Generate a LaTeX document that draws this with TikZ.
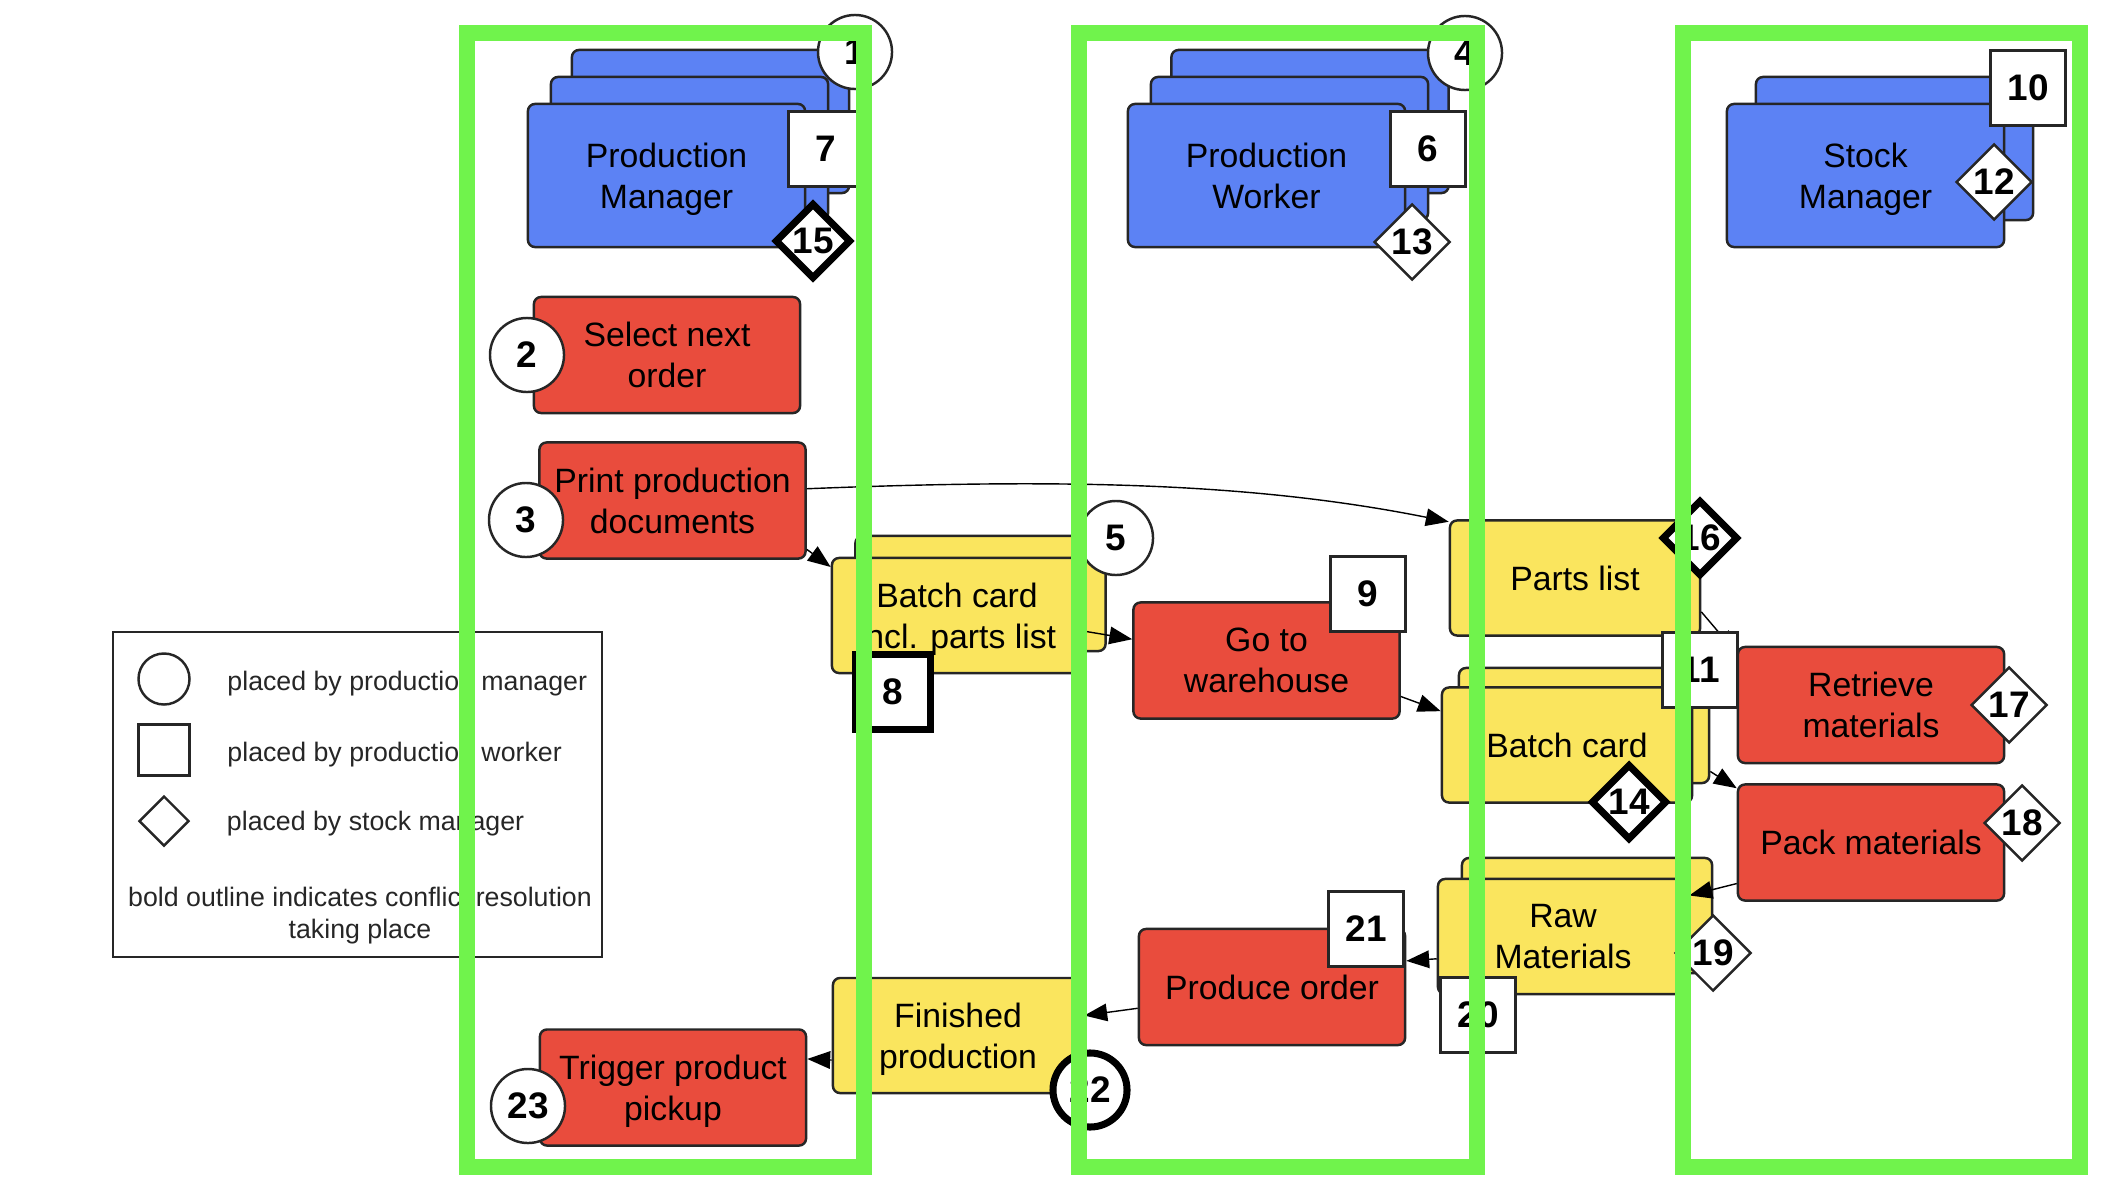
\documentclass[tikz,border=0pt]{standalone}
\usepackage{fontspec}
\setmainfont{Liberation Sans}
\usepackage{tikz}
\usetikzlibrary{positioning,shapes.geometric,arrows.meta}
\definecolor{actorblue}{RGB}{92,130,244}
\definecolor{taskred}{RGB}{233,76,61}
\definecolor{docyellow}{RGB}{250,229,94}
\definecolor{lanegreen}{RGB}{112,243,76}

\begin{document}
\begin{tikzpicture}[x=0.01cm,y=-0.01cm,>={Triangle[length=6.5pt,width=5pt]},
	actor/.style={draw=black!85, fill=actorblue, rounded corners=2pt, line width=0.7pt, minimum width=2.77cm, minimum height=1.43cm, align=center, text depth=0pt, font=\fontsize{9.6}{11.7}\selectfont},
	task/.style={actor, fill=taskred, minimum width=2.66cm, minimum height=1.16cm, text depth=-1pt},
	doc/.style={actor, fill=docyellow, minimum width=2.5cm, minimum height=1.15cm, text depth=-1pt},
	pmmark/.style={circle, draw=black!85, fill=white, line width=0.7pt, minimum size=0.74cm, inner sep=0pt, font=\fontsize{10.5}{12}\selectfont\bfseries},
	pwmark/.style={pmmark, rectangle, minimum size=0.75cm},
	smmark/.style={pmmark, diamond, minimum size=0.76cm},
	conflict/.style={draw=black, line width=2pt},
	keytext/.style={inner sep=0pt, text=black!85, font=\fontsize{7.6}{9.1}\selectfont},
	lane/.style={draw=lanegreen, line width=4.5pt},]
						\useasboundingbox (0,0) rectangle (2128,1176);

						\node[actor](pmback2) at (710.5,121.5){};
						\node[actor](pmback1) at (689.5,148.5){};
						\node[actor](pmanager) at (666.5,175.5){Production\\Manager};
						\node[actor](pwback2) at (1310,121.5){};
						\node[actor](pwback1) at (1289.5,148.5){};
						\node[actor](pworker) at (1266.5,175.5){Production\\Worker};
						\node[actor](smback1) at (1894.5,148.5){};
						\node[actor](smanager) at (1865.5,175.5){Stock\\Manager};

						\node[task](select) at (667,355){Select next\\order};
						\node[task](print) at (672.5,500.5){Print production\\documents};
						\node[task](warehouse) at (1266.5,660.5){Go to\\warehouse};
						\node[task](retrieve) at (1871,705){Retrieve\\materials};
						\node[task](pack) at (1871,842.5){Pack materials};
						\node[task](produce) at (1272,987){Produce order};
						\node[task](pickup) at (673,1087.5){Trigger product\\pickup};

						\node[doc](batchpartsback) at (980.5,593.5){};
						\node[doc](batchparts) at (957,615.5){Batch card\\incl. parts list};
						\node[doc](partslist) at (1575,578){Parts list};
						\node[doc](batchback) at (1584,725.5){};
						\node[doc](batch) at (1567,745){Batch card};
						\node[doc](rawback) at (1587,915.5){};
						\node[doc](raw) at (1563,936.5){Raw\\Materials};
						\node[doc](finished) at (958,1035.5){Finished\\production};

						\draw[->,black](print.-20) -- (batchparts.159);
						\draw[->,black](print.5) .. controls +(250,-10) and +(-200,-40) .. (partslist.156);
						\draw[->,black](batchparts.-7) -- (warehouse.171);
						\draw[->,black](warehouse.-15) -- (batch.165);
						\draw[->,black](partslist.-15) -- (retrieve.159);
						\draw[->,black](batchback.-20) -- (pack.158);
						\draw[->,black](pack.197) -- (raw.18);
						\draw[->,black](raw.190) -- (produce.11);
						\draw[->,black](produce.189) -- (finished.9);
						\draw[->,black](finished.191) -- (pickup.12);

						\node[pmmark](mark1) at (855,52){1};
						\node[pwmark](mark7) at (826,149){7};
						\node[smmark,conflict](mark15) at (813,241){15};
						\node[pmmark](mark4) at (1465,53){4};
						\node[pwmark](mark6) at (1428,149){6};
						\node[smmark](mark13) at (1412,242){13};
						\node[pwmark](mark10) at (2028,88){10};
						\node[smmark](mark12) at (1994,182){12};
						\node[pmmark](mark2) at (527,355){2};
						\node[pmmark](mark3) at (526,520){3};
						\node[pmmark](mark5) at (1116,538){5};
						\node[pwmark,conflict](mark8) at (893,692){8};
						\node[pwmark](mark9) at (1368,594){9};
						\node[smmark,conflict](mark16) at (1700,538){16};
						\node[pwmark](mark11) at (1700,670){11};
						\node[smmark,conflict](mark14) at (1629,802){14};
						\node[smmark](mark17) at (2009,705){17};
						\node[smmark](mark18) at (2022,823){18};
						\node[smmark](mark19) at (1713,953){19};
						\node[pwmark](mark20) at (1478,1015){20};
						\node[pwmark](mark21) at (1366,929){21};
						\node[pmmark,conflict](mark22) at (1090,1090){22};
						\node[pmmark](mark23) at (528,1106){23};

						\node[draw=black!85, line width=0.7pt, minimum width=4.89cm, minimum height=3.25cm](legend) at (357.5,794.5){};
						\node[pmmark, minimum size=0.51cm](keycircle) at (164,679){};
						\node[pwmark, minimum size=0.51cm](keysquare) at (164,750){};
						\node[smmark, minimum size=0.5cm](keydiamond) at (164,821){};
						\node[keytext](keypm)[right=0.36cm of keycircle, yshift=-1.2pt]{placed by production manager};
						\node[keytext](keypw)[right=0.36cm of keysquare, yshift=-1.2pt]{placed by production worker};
						\node[keytext](keysm)[right=0.36cm of keydiamond, yshift=-0.6pt]{placed by stock manager};
						\node[keytext, align=center](keybold) at (360,916){bold outline indicates conflict resolution\\taking place};

						\draw[lane] (467,33) rectangle (864,1167);
						\draw[lane] (1079,33) rectangle (1477,1167);
						\draw[lane] (1683,33) rectangle (2080,1167);
				\end{tikzpicture}
\end{document}
